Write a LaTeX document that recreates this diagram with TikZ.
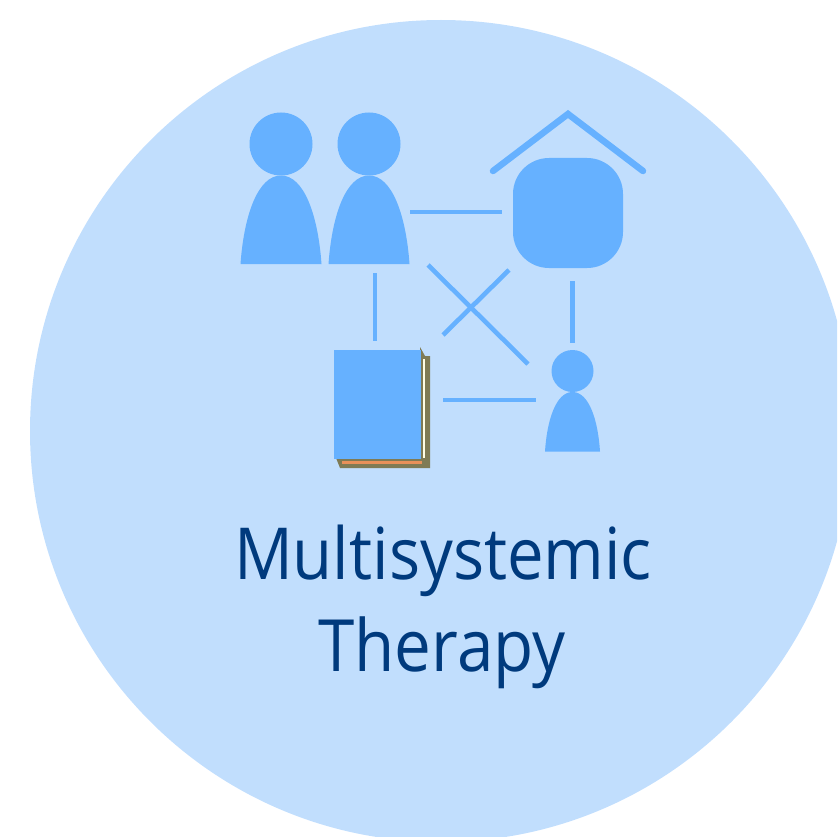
\documentclass[tikz,border=0pt]{standalone}
\usepackage{fontspec}
\setmainfont{Open Sans}
\definecolor{bgc}{HTML}{C1DEFD}
\definecolor{ic}{HTML}{66B1FF}
\definecolor{tc}{HTML}{003A7D}
\definecolor{olivec}{HTML}{7F7B55}
\definecolor{orangec}{HTML}{E8915A}
\tikzset{x=1pt,y=-1pt,
 icon/.style={fill=ic,draw=none},
 link/.style={draw=ic,line width=4.6pt},
 label/.style={text=tc,inner sep=0pt,anchor=base,font=\fontsize{68}{68}\selectfont}}
\begin{document}
\begin{tikzpicture}
\useasboundingbox (0,0) rectangle (837,837);
\begin{scope}
\clip (0,0) rectangle (837,837);
\fill[bgc] (441,431) circle[radius=411];
\end{scope}
% people
\fill[icon] (281,144) circle[radius=31.5];
\fill[icon] (369,144) circle[radius=31.5];
\fill[icon] (240.5,264) .. controls (244,215) and (258,175.5) .. (281,175.5) .. controls (304,175.5) and (318,215) .. (321.5,264) -- cycle;
\fill[icon] (328.5,264) .. controls (332,215) and (346,175.5) .. (369,175.5) .. controls (392,175.5) and (406,215) .. (409.5,264) -- cycle;
% house
\draw[ic,line width=6.5pt,line cap=round,line join=miter] (493,171) -- (568,114) -- (643,171);
\fill[icon,rounded corners=36pt] (513,158) rectangle (623,268);
% small person
\fill[icon] (572.5,371) circle[radius=21];
\fill[icon] (545,451.5) .. controls (547,420) and (556,392) .. (572.5,392) .. controls (589,392) and (598,420) .. (600,451.5) -- cycle;
% book
\fill[olivec] (336,458) -- (420,458) -- (420,347) -- (425,356) -- (430,356) -- (430,468) -- (340,468) -- cycle;
\fill[white!90!yellow] (423,359) rectangle (425,458);
\fill[orangec] (342,461) rectangle (422,464);
\fill[icon] (334,350) rectangle (420.5,458.5);
% connectors
\coordinate (a1) at (410,212); \coordinate (a2) at (502,212);
\coordinate (b1) at (375,273); \coordinate (b2) at (375,341);
\coordinate (c1) at (572.5,281); \coordinate (c2) at (572.5,343);
\coordinate (d1) at (428,265); \coordinate (d2) at (528,364);
\coordinate (e1) at (509,270); \coordinate (e2) at (443,335);
\coordinate (f1) at (443,400); \coordinate (f2) at (536,400);
\draw[link] (a1) -- (a2);
\draw[link] (b1) -- (b2);
\draw[link] (c1) -- (c2);
\draw[link] (d1) -- (d2);
\draw[link] (e1) -- (e2);
\draw[link] (f1) -- (f2);
% text
\node[label] (t1) at (443,579) {\scalebox{1}[1.1]{\resizebox{418pt}{!}{Multisystemic}}};
\node[label] (t2) at (442,671) {\scalebox{1}[1.1]{\resizebox{247pt}{!}{Therapy}}};
\end{tikzpicture}
\end{document}
